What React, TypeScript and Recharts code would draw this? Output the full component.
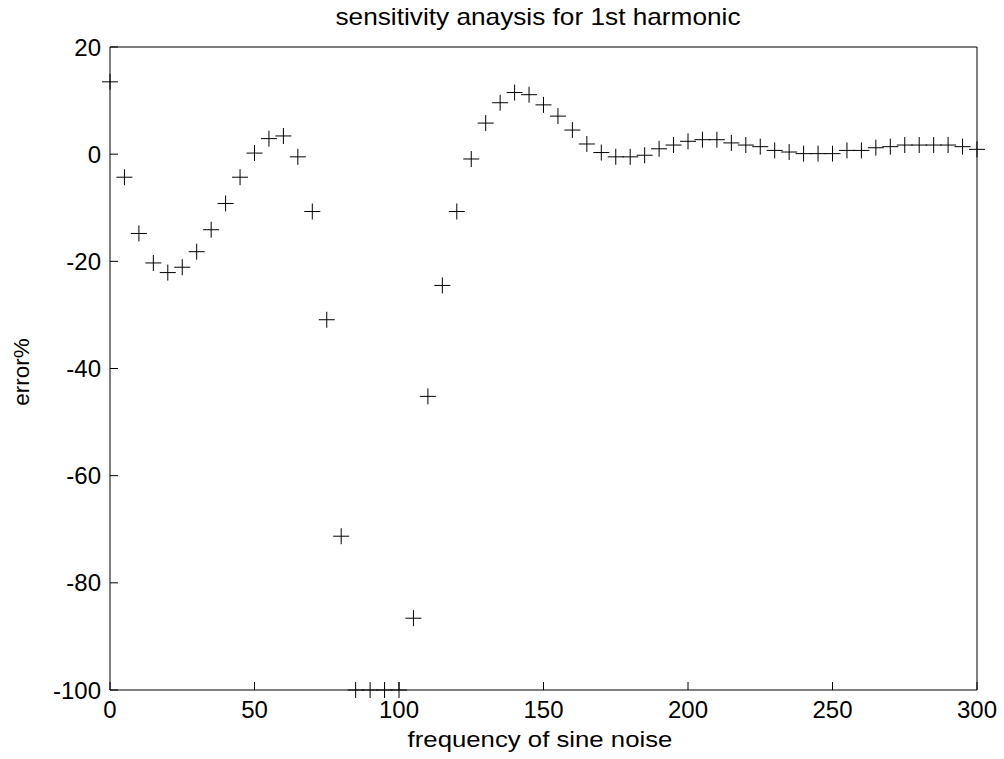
import React from 'react';
import { ScatterChart, Scatter, XAxis, YAxis } from 'recharts';

// frequency of sine noise (x) and error% (y)
const freqs = [
  0, 5, 10, 15, 20, 25, 30, 35, 40, 45, 50, 55, 60, 65, 70, 75, 80, 85, 90, 95,
  100, 105, 110, 115, 120, 125, 130, 135, 140, 145, 150, 155, 160, 165, 170, 175, 180, 185, 190, 195,
  200, 205, 210, 215, 220, 225, 230, 235, 240, 245, 250, 255, 260, 265, 270, 275, 280, 285, 290, 295, 300,
];
const errors = [
  13.5, -4.3, -14.8, -20.3, -22.1, -21.1, -18.2, -14.1, -9.2, -4.3, 0.2, 2.9, 3.4, -0.5, -10.7, -30.9, -71.3, -100, -100, -100,
  -100, -86.6, -45.2, -24.5, -10.7, -0.9, 5.8, 9.6, 11.5, 11.1, 9.2, 7.1, 4.5, 1.9, 0.3, -0.5, -0.5, -0.2, 1.0, 1.7,
  2.4, 2.7, 2.7, 2.1, 1.7, 1.4, 0.7, 0.4, 0.1, 0.1, 0.1, 0.7, 0.7, 1.2, 1.4, 1.7, 1.7, 1.7, 1.7, 1.4, 0.9,
];
const xTicks = [0, 50, 100, 150, 200, 250, 300];
const yTicks = [-100, -80, -60, -40, -20, 0, 20];

const data = freqs.map((f, i) => ({ f, e: errors[i] }));

const FONT = 'Liberation Sans, Arial, sans-serif';

// MATLAB-style "+" marker
const PlusMarker = (props: any) => {
  const { cx, cy } = props;
  if (cx == null || cy == null) return <g />;
  return (
    <g stroke="#000" strokeWidth={1}>
      <line x1={cx - 8} y1={cy} x2={cx + 8} y2={cy} />
      <line x1={cx} y1={cy - 8} x2={cx} y2={cy + 8} />
    </g>
  );
};

const noLabel = () => <g />;

const App: React.FC = () => {
  const tickStyle = { fill: '#000', fontSize: 24, fontFamily: FONT };
  return (
    <div style={{ position: 'absolute', left: 0, top: 0, width: 1004, height: 759, background: '#fff', fontFamily: FONT }}>
      <ScatterChart width={1004} height={759} margin={{ top: 17, right: 7, bottom: 29, left: 50 }}>
        <XAxis
          xAxisId={0}
          type="number"
          dataKey="f"
          domain={[0, 300]}
          ticks={xTicks}
          tickSize={-8}
          tickMargin={19}
          height={40}
          stroke="#000"
          tick={tickStyle}
          tickLine={{ stroke: '#000' }}
        />
        <XAxis
          xAxisId="top"
          orientation="top"
          type="number"
          domain={[0, 300]}
          ticks={xTicks}
          tickSize={-8}
          height={30}
          stroke="#000"
          tick={noLabel}
          tickLine={{ stroke: '#000' }}
        />
        <YAxis
          yAxisId={0}
          type="number"
          dataKey="e"
          domain={[-100, 20]}
          ticks={yTicks}
          tickSize={-8}
          tickMargin={17}
          width={60}
          stroke="#000"
          tick={tickStyle}
          tickLine={{ stroke: '#000' }}
        />
        <YAxis
          yAxisId="right"
          orientation="right"
          type="number"
          domain={[-100, 20]}
          ticks={yTicks}
          tickSize={-8}
          width={20}
          stroke="#000"
          tick={noLabel}
          tickLine={{ stroke: '#000' }}
        />
        <Scatter data={data} shape={<PlusMarker />} isAnimationActive={false} />
      </ScatterChart>
      <svg width={1004} height={759} style={{ position: 'absolute', left: 0, top: 0, pointerEvents: 'none' }}>
        <text
          transform="translate(538,25) scale(1.14,1)"
          textAnchor="middle"
          fontSize={23}
          fontFamily={FONT}
          fill="#000"
        >
          sensitivity anaysis for 1st harmonic
        </text>
        <text
          transform="translate(540,747) scale(1.12,1)"
          textAnchor="middle"
          fontSize={23}
          fontFamily={FONT}
          fill="#000"
        >
          frequency of sine noise
        </text>
        <text
          transform="translate(29,372) rotate(-90)"
          textAnchor="middle"
          fontSize={22.5}
          fontFamily={FONT}
          fill="#000"
        >
          error%
        </text>
      </svg>
    </div>
  );
};

export default App;
